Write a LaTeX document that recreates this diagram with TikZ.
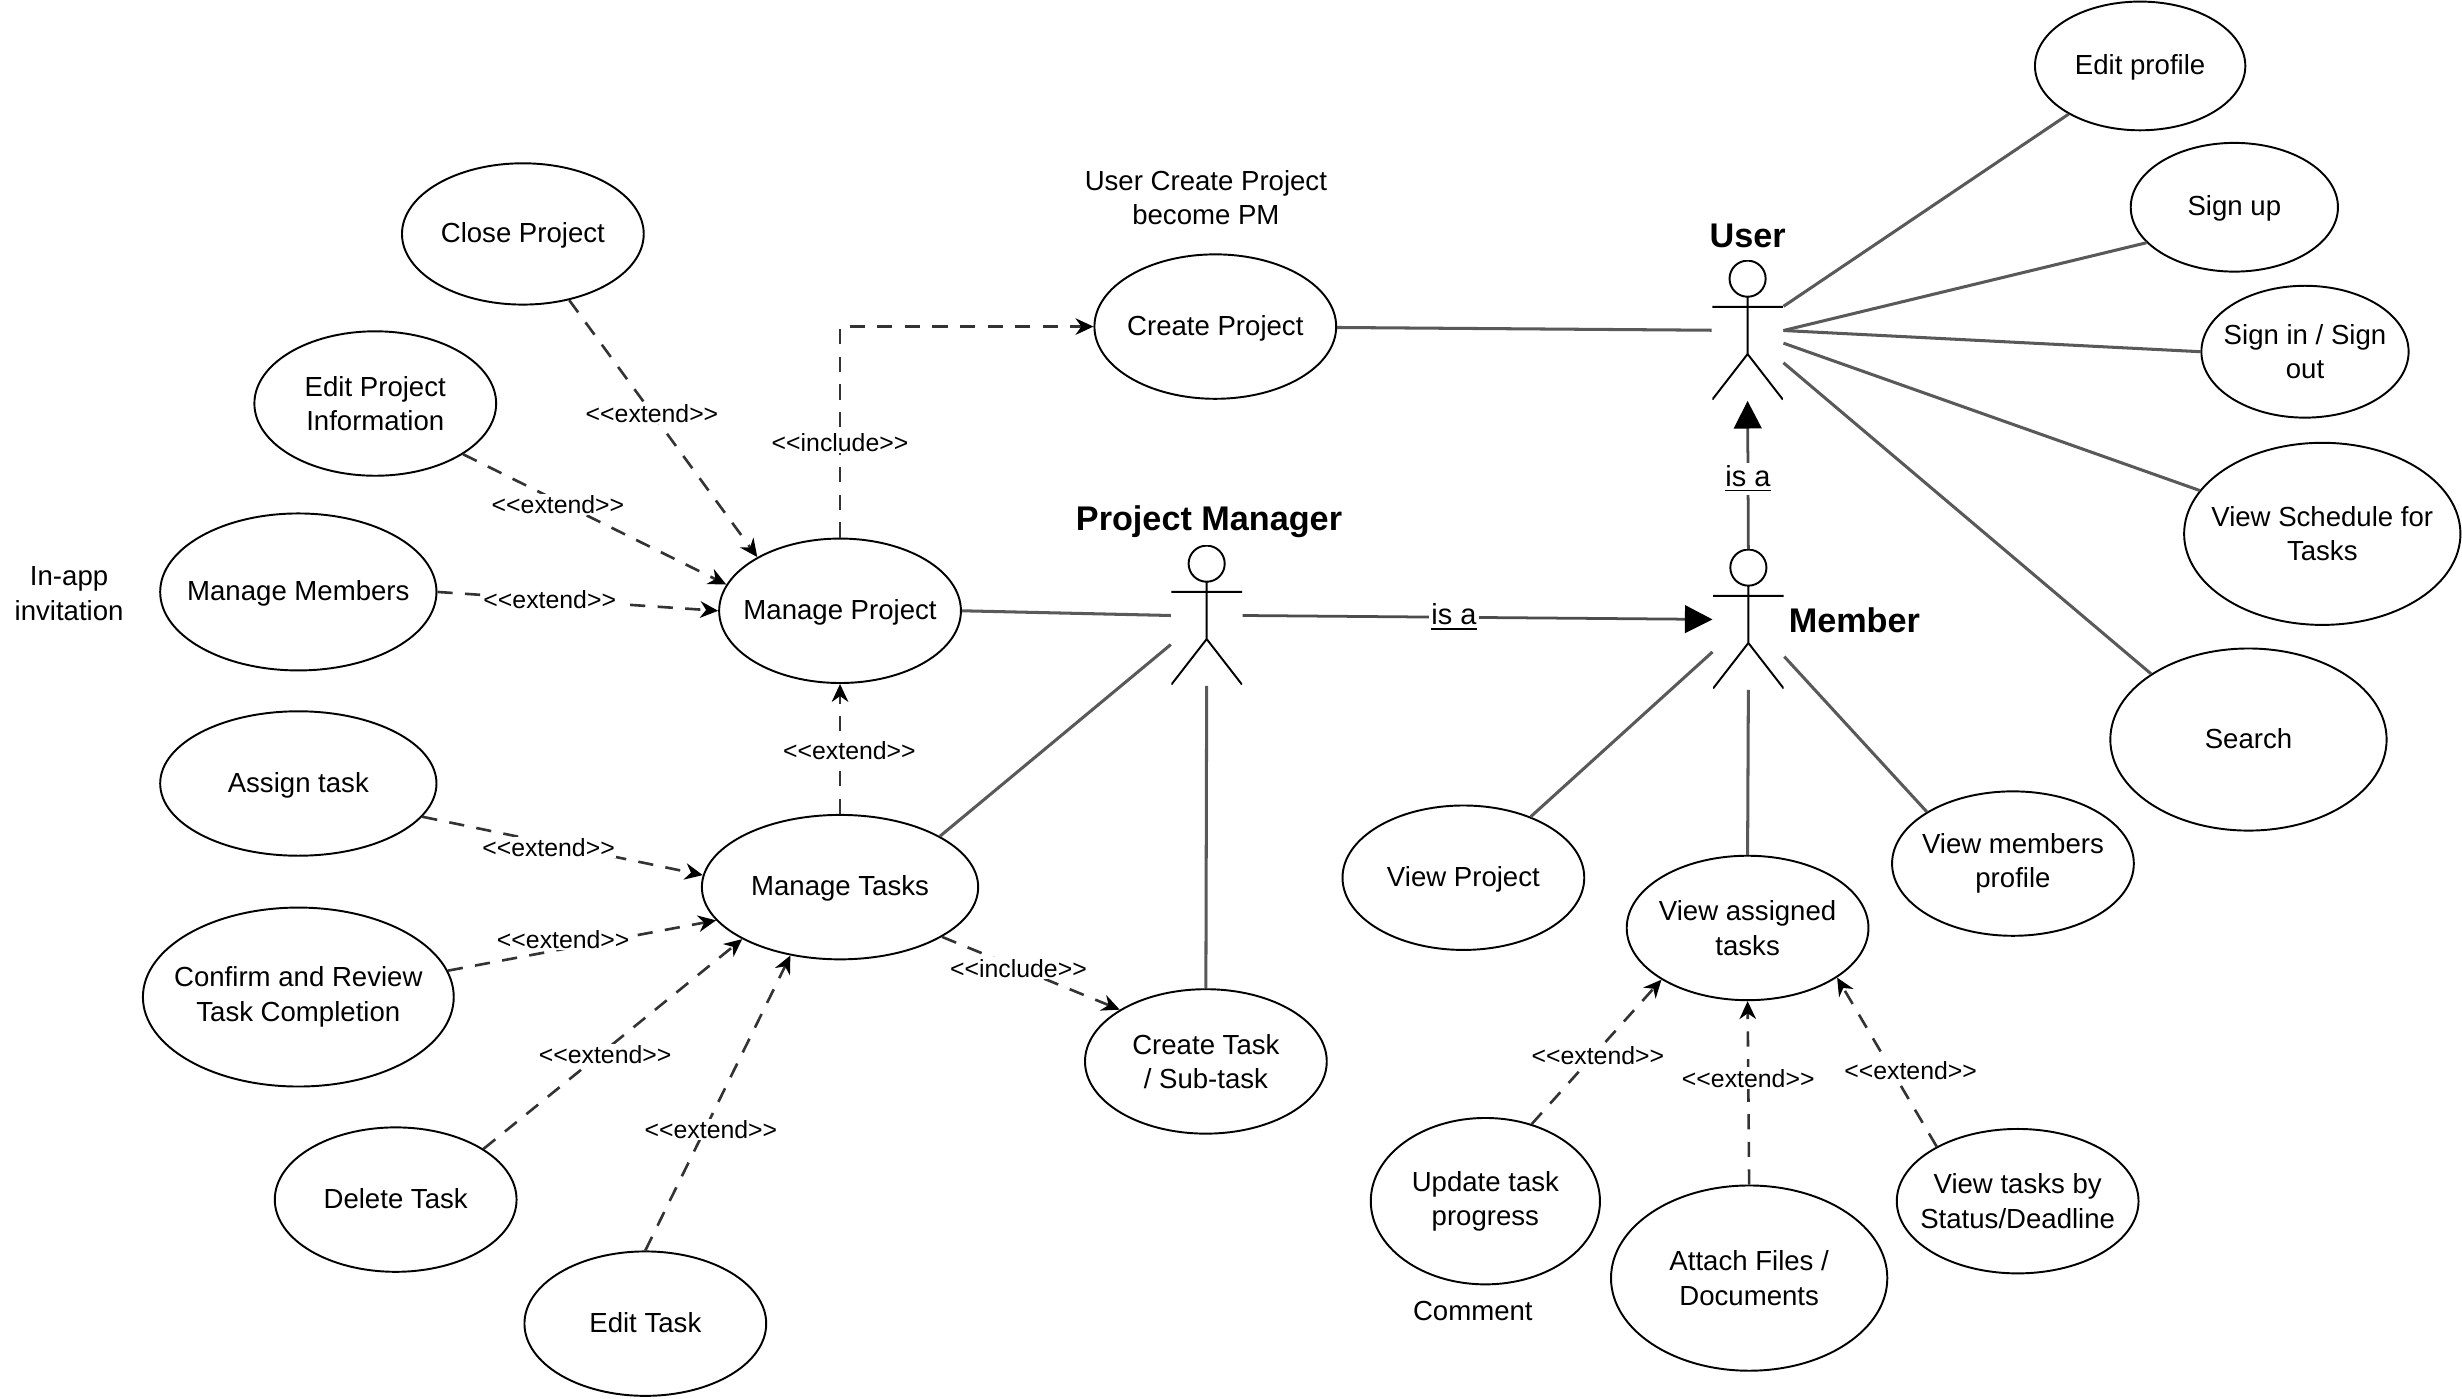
\documentclass[tikz,border=0pt]{standalone}
\usepackage{fontspec}
\setmainfont{Liberation Sans}
\usetikzlibrary{shapes.geometric,arrows.meta,positioning}
\newcommand{\extendtag}{<{}<extend>{}>}
\newcommand{\includetag}{<{}<include>{}>}
\tikzset{
    usecase/.style = {draw, ellipse, align=center, inner xsep=-1cm, inner ysep=0pt, line width=0.7pt, minimum width=3.08cm, minimum height=1.84cm, font=\fontsize{10}{12.5}\selectfont},
    oneline/.style = {text height=8pt, text depth=1.8pt},
    note/.style = {align=center, font=\fontsize{10}{12.5}\selectfont},
    rolename/.style = {font=\fontsize{12.4}{14}\selectfont\bfseries},
    actor/.style = {inner sep=0pt, minimum width=0.9cm, minimum height=1.78cm, path picture={\draw [line width=0.7pt, shift={(path picture bounding box.center)}] (0,-33) circle [radius=11.5] (0,-21.5) -- (0,15) (-22.5,-15) -- (22.5,-15) (-22.5,44) -- (0,15) -- (22.5,44);}},
    assoc/.style = {draw, black!65, line width=1.1pt},
    relation/.style = {draw, dashed, black!80, line width=0.95pt, dash pattern=on 5.5pt off 4.5pt, -{Stealth[length=6.5pt,width=6pt,color=black]}},
    generalize/.style = {draw, black!70, line width=1pt, -{Triangle[length=10pt,width=10pt,color=black]}},
    tag/.style = {fill=white, text=black, inner sep=0.6pt, font=\fontsize{9}{10}\selectfont},
    isa/.style = {fill=white, text=black, inner sep=1pt, font=\fontsize{10.5}{12}\selectfont},
}
\begin{document}
\begin{tikzpicture}[x=0.02cm, y=-0.02cm]
    \useasboundingbox (0,0) rectangle (1568,890.4);
    % actors
    \node [actor] (user) at (1113,210.5) {};
    \node [actor] (manager) at (768.5,392) {};
    \node [actor] (member) at (1113.5,394.5) {};
    \node [rolename] (usertitle) at (1113,150) {User};
    \node [rolename] (managertitle) at (770,332) {Project Manager};
    \node [rolename] (membertitle) at (1181,395) {Member};
    % user cases
    \node [usecase, oneline, minimum width=2.68cm, minimum height=1.64cm] (editprofile) at (1363,42) {Edit profile};
    \node [usecase, oneline, minimum width=2.64cm, minimum height=1.64cm] (signup) at (1423,132) {Sign up};
    \node [usecase, minimum width=2.64cm, minimum height=1.68cm] (signin) at (1468,224) {Sign in / Sign\\out};
    \node [usecase, minimum width=3.52cm, minimum height=2.32cm] (schedule) at (1479,340) {View Schedule for\\Tasks};
    \node [usecase, oneline, minimum width=3.52cm, minimum height=2.32cm] (search) at (1432,471) {Search};
    \node [usecase, oneline] (createproject) at (774,208) {Create Project};
    % manager cases
    \node [usecase, oneline] (manageproject) at (535,389) {Manage Project};
    \node [usecase, oneline, minimum width=3.52cm] (managetasks) at (535,565) {Manage Tasks};
    \node [usecase, oneline, minimum height=1.8cm] (closeproject) at (333,149) {Close Project};
    \node [usecase] (editinfo) at (239,257) {Edit Project\\Information};
    \node [usecase, oneline, minimum width=3.52cm, minimum height=2cm] (managemembers) at (190,377) {Manage Members};
    \node [usecase, oneline, minimum width=3.52cm] (assigntask) at (190,499) {Assign task};
    \node [usecase, minimum width=3.96cm, minimum height=2.28cm] (confirmtask) at (190,635) {Confirm and Review\\Task Completion};
    \node [usecase, oneline] (deletetask) at (252,764) {Delete Task};
    \node [usecase, oneline] (edittask) at (411,843) {Edit Task};
    \node [usecase] (createtask) at (768,676) {Create Task\\/ Sub-task};
    % member cases
    \node [usecase, oneline] (viewproject) at (932,559) {View Project};
    \node [usecase] (viewassigned) at (1113,591) {View assigned\\tasks};
    \node [usecase] (viewmembers) at (1282,550) {View members\\profile};
    \node [usecase, minimum width=2.92cm, minimum height=2.12cm] (updatetask) at (946,765) {Update task\\progress};
    \node [usecase, minimum width=3.52cm, minimum height=2.36cm] (attachfiles) at (1114,814) {Attach Files /\\Documents};
    \node [usecase] (viewtasks) at (1285,765) {View tasks by\\Status/Deadline};
    % free text
    \node [note] (pmnote) at (768,126) {User Create Project\\become PM};
    \node [note] (invitenote) at (44,378) {In-app\\invitation};
    \node [note] (commentnote) at (938,835) {Comment};
    % associations
    \draw [assoc] (user) -- (editprofile);
    \draw [assoc] (user.east) -- (signup.202);
    \draw [assoc] (user.east) -- (signin.west);
    \draw [assoc] (user) -- (schedule);
    \draw [assoc] (user.-42) -- (search.146);
    \draw [assoc] (createproject) -- (user);
    \draw [assoc] (manageproject.east) -- (manager.west);
    \draw [assoc] (managetasks.27) -- (manager.219);
    \draw [assoc] (createtask.north) -- (manager.south);
    \draw [assoc] (viewproject) -- (member);
    \draw [assoc] (viewassigned.north) -- (member.south);
    \draw [assoc] (viewmembers.149) -- (member.-46);
    % is a
    \draw [generalize] (manager.east) -- node [isa, pos=0.45] {\underline{is a}} (member.west);
    \draw [generalize] (member.north) -- node [isa, pos=0.49, yshift=-1pt] {\underline{is a}} (user.south);
    % extend and include
    \draw [relation] (closeproject.-55) -- node [tag, pos=0.44] {\extendtag} (manageproject.147);
    \draw [relation] (editinfo.-30) -- node [tag, pos=0.35, xshift=1pt, yshift=-1.7pt] {\extendtag} (manageproject.167);
    \draw [relation] (managemembers.east) -- node [tag, pos=0.4] {\extendtag} (manageproject.west);
    \draw [relation] (assigntask.-15) -- node [tag, pos=0.45, yshift=-1.7pt] {\extendtag} (managetasks.175);
    \draw [relation] (confirmtask.10) -- node [tag, pos=0.43, yshift=3.4pt] {\extendtag} (managetasks.195);
    \draw [relation] (deletetask.30) -- node [tag, pos=0.47, yshift=-1.7pt] {\extendtag} (managetasks.208);
    \draw [relation] (edittask.north) -- node [tag, pos=0.42, xshift=1.7pt, yshift=-1pt] {\extendtag} (managetasks.234);
    \draw [relation] (managetasks.north) -- node [tag, pos=0.49, xshift=3.4pt] {\extendtag} (manageproject.south);
    \draw [relation] (manageproject.north) |- node [tag, pos=0.226] {\includetag} (createproject.west);
    \draw [relation] (managetasks.-26) -- node [tag, pos=0.43] {\includetag} (createtask.149);
    \draw [relation] (updatetask.59) -- node [tag, pos=0.51, yshift=-1.7pt] {\extendtag} (viewassigned.211);
    \draw [relation] (attachfiles.north) -- node [tag, pos=0.58] {\extendtag} (viewassigned.south);
    \draw [relation] (viewtasks.146) -- node [tag, pos=0.45, xshift=6.8pt] {\extendtag} (viewassigned.-29);
\end{tikzpicture}
\end{document}
